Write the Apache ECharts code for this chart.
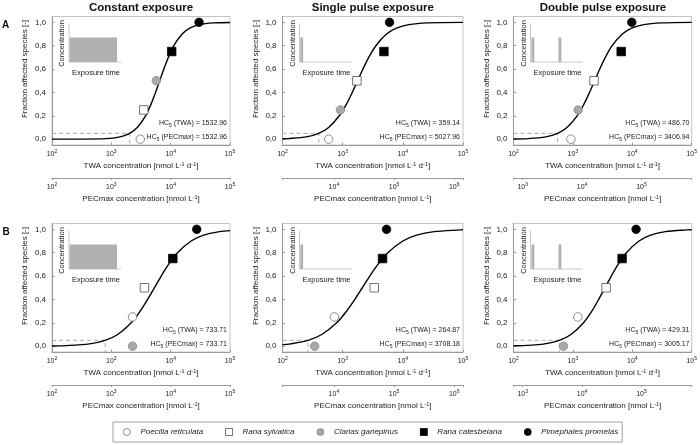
<!DOCTYPE html>
<html>
<head>
<meta charset="utf-8">
<title>Species sensitivity distributions</title>
<script src="https://cdn.jsdelivr.net/npm/echarts@6/dist/echarts.min.js"></script>
<style>
  html, body { margin: 0; padding: 0; background: #fff; }
  #chart { width: 700px; height: 445px; }
</style>
</head>
<body>
<div id="chart"></div>
<script>
// panel order: A constant, A single pulse, A double pulse, B constant, B single pulse, B double pulse
var columnTitles = ['Constant exposure', 'Single pulse exposure', 'Double pulse exposure'];
var rowLabels = ['A', 'B'];
var speciesNames = ['Poecilia reticulata', 'Rana sylvatica', 'Clarias gariepinus', 'Rana catesbeiana', 'Pimephales promelas'];

// species points (TWA concentration, fraction affected) per panel
var poeciliaTwa = [3080, 584, 923, 2275, 728, 1208];
var poeciliaFrac = [0, 0, 0, 0.25, 0.25, 0.25];
var sylvaticaTwa = [3510, 1725, 2265, 3620, 3350, 3620];
var sylvaticaFrac = [0.25, 0.5, 0.5, 0.5, 0.5, 0.5];
var clariasTwa = [5730, 918, 1225, 2275, 343, 693];
var clariasFrac = [0.5, 0.25, 0.25, 0, 0, 0];
var catesbeianaTwa = [10400, 4850, 6500, 10870, 4600, 6730];
var catesbeianaFrac = [0.75, 0.75, 0.75, 0.75, 0.75, 0.75];
var pimephalesTwa = [30100, 6010, 9790, 27500, 5360, 11580];
var pimephalesFrac = [1, 1, 1, 1, 1, 1];

// fitted curves
var curveConstantA = [[100,0],[804,0.005],[1400,0.02],[2037,0.05],[2735,0.1],[3776,0.2],[4667,0.3],[5559,0.4],[6531,0.5],[7674,0.6],[9141,0.7],[11300,0.8],[15600,0.9],[20940,0.95],[30480,0.98],[53090,0.995],[100000,0.999]];
var curveSingleA = [[100,0.003],[123,0.005],[249,0.02],[401,0.05],[585,0.1],[879,0.2],[1156,0.3],[1442,0.4],[1770,0.5],[2173,0.6],[2710,0.7],[3565,0.8],[5358,0.9],[7816,0.95],[12590,0.98],[25530,0.995],[100000,1]];
var curveDoubleA = [[100,0.002],[175,0.005],[348,0.02],[552,0.05],[794,0.1],[1180,0.2],[1535,0.3],[1905,0.4],[2323,0.5],[2831,0.6],[3516,0.7],[4571,0.8],[6792,0.9],[9772,0.95],[15520,0.98],[30760,0.995],[100000,1]];
var curveConstantB = [[100,0.002],[172,0.005],[427,0.02],[789,0.05],[1279,0.1],[2168,0.2],[3069,0.3],[4093,0.4],[5321,0.5],[6918,0.6],[9226,0.7],[13060,0.8],[22130,0.9],[35890,0.95],[66370,0.98],[100000,0.989]];
var curveSingleB = [[100,0.013],[136,0.02],[265,0.05],[449,0.1],[796,0.2],[1164,0.3],[1592,0.4],[2118,0.5],[2818,0.6],[3855,0.7],[5636,0.8],[10000,0.9],[16940,0.95],[33110,0.98],[88920,0.995],[100000,0.996]];
var curveDoubleB = [[100,0.003],[145,0.005],[335,0.02],[593,0.05],[927,0.1],[1510,0.2],[2084,0.3],[2716,0.4],[3467,0.5],[4426,0.6],[5768,0.7],[7962,0.8],[12970,0.9],[20320,0.95],[35890,0.98],[83180,0.995],[100000,0.996]];

// HC5 values printed in each panel, and where the dashed guide drops in the figure
var hc5Twa = ['1532.96', '359.14', '486.70', '733.71', '264.87', '429.31'];
var hc5Pec = ['1532.96', '5027.96', '3406.94', '733.71', '3708.18', '3005.17'];
var hc5Drawn = [2037, 401, 552, 789, 265, 593];

// axis ranges
var twaMin = 100, twaMax = 100000;
var pecMin = [100, 1400, 700, 100, 1400, 700];
var pecMax = [100000, 1400000, 700000, 100000, 1400000, 700000];
var fracTicks = [0, 0.2, 0.4, 0.6, 0.8, 1.0];

var curves = [curveConstantA, curveSingleA, curveDoubleA, curveConstantB, curveSingleB, curveDoubleB];
var speciesTwa = [poeciliaTwa, sylvaticaTwa, clariasTwa, catesbeianaTwa, pimephalesTwa];
var speciesFrac = [poeciliaFrac, sylvaticaFrac, clariasFrac, catesbeianaFrac, pimephalesFrac];
var speciesSymbol = ['circle', 'rect', 'circle', 'rect', 'circle'];
var speciesStyle = [
    {color: '#ffffff', borderColor: '#707070', borderWidth: 0.8, opacity: 1},
    {color: '#ffffff', borderColor: '#505050', borderWidth: 0.8, opacity: 1},
    {color: '#a8a8a8', borderColor: '#8a8a8a', borderWidth: 0.8, opacity: 1},
    {color: '#000000', borderColor: '#000000', borderWidth: 0.8, opacity: 1},
    {color: '#000000', borderColor: '#000000', borderWidth: 0.8, opacity: 1}
];

// layout
var gridLeft = [52, 282.5, 513.5];
var gridWidth = [178, 180.5, 179];
var gridTop = [16.5, 223.5];
var gridHeight = 128.5;
var FONT = 'Arial, "Liberation Sans", Helvetica, sans-serif';
var TXT = '#222';

var supRich = {sup: {fontSize: 5, lineHeight: 4, verticalAlign: 'top', fontFamily: FONT, color: TXT}};
var nameRich = {sup: {fontSize: 5.5, lineHeight: 4, verticalAlign: 'top', fontFamily: FONT, color: TXT}};

function powLabel(v) {
    var e = Math.log10(v);
    var r = Math.round(e);
    if (Math.abs(e - r) > 0.01) return '';
    return '10{sup|' + r + '}';
}

var grids = [], xAxes = [], yAxes = [], series = [], graphics = [];

for (var p = 0; p < 6; p++) {
    var col = p % 3, row = Math.floor(p / 3);
    grids.push({
        left: gridLeft[col], top: gridTop[row], width: gridWidth[col], height: gridHeight,
        show: true, borderColor: '#c4c4c4', borderWidth: 1, backgroundColor: 'transparent'
    });
    // TWA axis
    xAxes.push({
        type: 'log', gridIndex: p, min: twaMin, max: twaMax, logBase: 10,
        position: 'bottom',
        axisLine: {onZero: false, lineStyle: {color: '#9a9a9a', width: 1}},
        axisTick: {inside: true, length: 2.5, lineStyle: {color: '#9a9a9a'}},
        splitLine: {show: false}, minorTick: {show: false},
        axisLabel: {margin: 4.5, fontSize: 7, lineHeight: 10, color: TXT, fontFamily: FONT, formatter: powLabel, rich: supRich},
        name: 'TWA concentration [nmol L{sup|-1} d{sup|-1}]',
        nameLocation: 'middle', nameGap: 16,
        nameTextStyle: {fontSize: 8, lineHeight: 10, color: TXT, fontFamily: FONT, rich: nameRich}
    });
    // PECmax axis
    xAxes.push({
        type: 'log', gridIndex: p, min: pecMin[p], max: pecMax[p], logBase: 10,
        position: 'bottom', offset: 33,
        axisLine: {onZero: false, lineStyle: {color: '#9a9a9a', width: 1}},
        axisTick: {show: true, length: 2, lineStyle: {color: '#9a9a9a'}},
        splitLine: {show: false}, minorTick: {show: false},
        axisLabel: {margin: 4.5, fontSize: 7, lineHeight: 10, color: TXT, fontFamily: FONT, formatter: powLabel, rich: supRich},
        name: 'PECmax concentration [nmol L{sup|-1}]',
        nameLocation: 'middle', nameGap: 16,
        nameTextStyle: {fontSize: 8, lineHeight: 10, color: TXT, fontFamily: FONT, rich: nameRich}
    });
    yAxes.push({
        type: 'value', gridIndex: p, min: -0.05, max: 1.05,
        axisLine: {onZero: false, lineStyle: {color: '#9a9a9a', width: 1}},
        axisTick: {inside: true, length: 2.5, customValues: fracTicks, lineStyle: {color: '#9a9a9a'}},
        splitLine: {show: false},
        axisLabel: {
            margin: 6, fontSize: 8, color: TXT, fontFamily: FONT, customValues: fracTicks,
            formatter: function (v) { return v.toFixed(1).replace('.', ','); }
        }
    });

    // dashed HC5 guide
    series.push({
        type: 'line', xAxisIndex: 2 * p, yAxisIndex: p, silent: true, symbol: 'none', z: 1,
        data: [[twaMin, 0.05], [hc5Drawn[p], 0.05], [hc5Drawn[p], -0.05]],
        lineStyle: {color: '#a9a9a9', width: 1, type: [4, 3]}
    });
    // fitted curve
    series.push({
        type: 'line', xAxisIndex: 2 * p, yAxisIndex: p, silent: true, symbol: 'none', z: 2,
        smooth: 0.3, data: curves[p],
        lineStyle: {color: '#000', width: 1.4}
    });
    // species
    for (var s = 0; s < 5; s++) {
        series.push({
            type: 'scatter', name: speciesNames[s], xAxisIndex: 2 * p, yAxisIndex: p, z: 3,
            symbol: speciesSymbol[s], symbolSize: 8.5,
            itemStyle: speciesStyle[s],
            data: [[speciesTwa[s][p], speciesFrac[s][p]]]
        });
    }

    var gl = gridLeft[col], gt = gridTop[row], gr = gl + gridWidth[col];

    // y axis title
    graphics.push({
        type: 'text', x: gl - 27, y: gt + 52.5, rotation: Math.PI / 2,
        style: {text: 'Fraction affected species [-]', font: '8px ' + FONT, fill: TXT,
            align: 'center', verticalAlign: 'middle', textAlign: 'center', textVerticalAlign: 'middle'}
    });
    // HC5 annotations
    var subRich = {s: {font: '5px ' + FONT, fill: TXT, lineHeight: 6, verticalAlign: 'bottom'}};
    graphics.push({
        type: 'text', x: gr - 3, y: gt + 107, z: 10,
        style: {text: 'HC{s|5} (TWA) = ' + hc5Twa[p], font: '7px ' + FONT, fill: TXT, lineHeight: 10, rich: subRich,
            align: 'right', verticalAlign: 'middle', textAlign: 'right', textVerticalAlign: 'middle'}
    });
    graphics.push({
        type: 'text', x: gr - 3, y: gt + 121, z: 10,
        style: {text: 'HC{s|5} (PECmax) = ' + hc5Pec[p], font: '7px ' + FONT, fill: TXT, lineHeight: 10, rich: subRich,
            align: 'right', verticalAlign: 'middle', textAlign: 'right', textVerticalAlign: 'middle'}
    });

    // exposure-profile inset
    var ix = gl + 17, iy0 = gt + 7, iy1 = gt + 45.5;
    graphics.push({type: 'line', shape: {x1: ix, y1: iy0, x2: ix, y2: iy1}, style: {stroke: '#c8c8c8', lineWidth: 1}});
    graphics.push({type: 'line', shape: {x1: ix, y1: iy1, x2: gl + 69, y2: iy1}, style: {stroke: '#c8c8c8', lineWidth: 1}});
    var barStyle = {fill: '#b0b0b0'};
    if (col === 0) {
        graphics.push({type: 'rect', shape: {x: ix + 0.5, y: gt + 21, width: 47.5, height: iy1 - gt - 21}, style: barStyle});
    } else if (col === 1) {
        graphics.push({type: 'rect', shape: {x: ix + 0.8, y: gt + 21, width: 2.8, height: iy1 - gt - 21}, style: barStyle});
    } else {
        graphics.push({type: 'rect', shape: {x: ix + 1, y: gt + 21, width: 2.8, height: iy1 - gt - 21}, style: barStyle});
        graphics.push({type: 'rect', shape: {x: ix + 28, y: gt + 21, width: 2.8, height: iy1 - gt - 21}, style: barStyle});
    }
    graphics.push({
        type: 'text', x: gl + 10, y: gt + 27, rotation: Math.PI / 2,
        style: {text: 'Concentration', font: '7.5px ' + FONT, fill: TXT,
            align: 'center', verticalAlign: 'middle', textAlign: 'center', textVerticalAlign: 'middle'}
    });
    graphics.push({
        type: 'text', x: gl + 44, y: gt + 56.5,
        style: {text: 'Exposure time', font: '7.5px ' + FONT, fill: TXT,
            align: 'center', verticalAlign: 'middle', textAlign: 'center', textVerticalAlign: 'middle'}
    });
}

// column titles and row letters
for (var c = 0; c < 3; c++) {
    graphics.push({
        type: 'text', x: gridLeft[c] + gridWidth[c] / 2, y: 7.5,
        style: {text: columnTitles[c], font: 'bold 11.5px ' + FONT, fill: '#111',
            align: 'center', verticalAlign: 'middle', textAlign: 'center', textVerticalAlign: 'middle'}
    });
}
graphics.push({type: 'text', x: 5.5, y: 25, style: {text: rowLabels[0], font: 'bold 10px ' + FONT, fill: '#111',
    align: 'center', verticalAlign: 'middle', textAlign: 'center', textVerticalAlign: 'middle'}});
graphics.push({type: 'text', x: 6, y: 232, style: {text: rowLabels[1], font: 'bold 10px ' + FONT, fill: '#111',
    align: 'center', verticalAlign: 'middle', textAlign: 'center', textVerticalAlign: 'middle'}});

var chart = echarts.init(document.getElementById('chart'));
chart.setOption({
    animation: false,
    backgroundColor: '#fff',
    grid: grids,
    xAxis: xAxes,
    yAxis: yAxes,
    series: series,
    legend: {
        data: speciesNames,
        left: 113, top: 422,
        itemWidth: 7, itemHeight: 7, itemGap: 22,
        padding: [6, 4, 6, 10],
        borderColor: '#8a8a8a', borderWidth: 0.8,
        itemStyle: {borderWidth: 0.8},
        selectedMode: false,
        textStyle: {fontSize: 8, fontStyle: 'italic', color: TXT, fontFamily: FONT, padding: [0, 0, 0, 5]}
    },
    graphic: {elements: graphics}
});
</script>
</body>
</html>
